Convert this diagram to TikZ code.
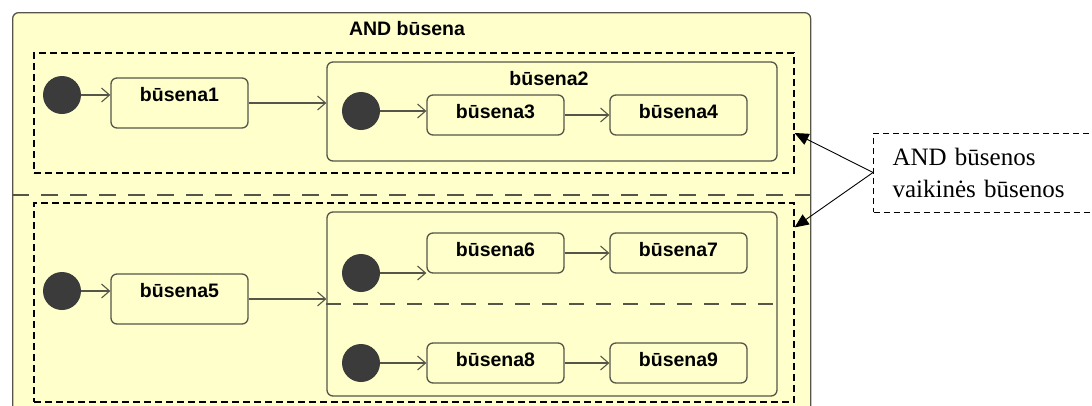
\documentclass[tikz,border=0pt]{standalone}
\usepackage{fontspec}
\setmainfont{Liberation Serif}
\setsansfont{Liberation Sans}
\usepackage{tikz}
\usetikzlibrary{arrows.meta}
\usepackage{xcolor}
\definecolor{stfill}{HTML}{FFFFCC}
\definecolor{stline}{HTML}{55554A}
\definecolor{dot}{HTML}{3B3B3B}

\tikzset{
  box/.style={draw=stline, line width=1.3pt, rounded corners=6pt, fill=stfill, inner sep=0pt},
  state/.style={box, minimum width=137, minimum height=40, text height=12pt, text depth=6pt,
    font=\sffamily\bfseries\fontsize{19.5}{22}\selectfont},
  tall/.style={minimum height=50, text depth=16pt},
  init/.style={circle, fill=dot, minimum size=38, inner sep=0pt},
  tr/.style={draw=stline, line width=1.1pt, -{Straight Barb[length=8pt,width=14pt]}},
  region/.style={draw=black, line width=1.2pt, dash pattern=on 7pt off 4pt, inner sep=0pt},
  sep/.style={draw=stline, line width=1.2pt, dash pattern=on 17pt off 12pt},
  title/.style={font=\sffamily\bfseries\fontsize{19.5}{22}\selectfont, inner sep=0pt}
}

\begin{document}
\begin{tikzpicture}[x=1pt,y=-1pt]
\useasboundingbox (0,0) rectangle (1092,405);
\clip (0,0) rectangle (1092,405);
\fill[white] (0,0) rectangle (1092,405);

% outer AND state and its two regions
\node[box, minimum width=798, minimum height=430, anchor=north west] (and) at (12,12) {};
\node[title] (andtitle) at (407,29) {AND būsena};
\draw[sep] (12,195) -- (810,195);
\node[region, minimum width=760, minimum height=120] (r1) at (414,113) {};
\node[region, minimum width=760, minimum height=199] (r2) at (414,302.5) {};

% first region
\node[init] (i1) at (62,95) {};
\node[state, tall] (s1) at (179.5,103) {būsena1};
\node[box, minimum width=450, minimum height=99] (c2) at (552,111.5) {};
\node[title] (c2title) at (549,79) {būsena2};
\node[init] (i2) at (361,111) {};
\node[state] (s3) at (495.5,115) {būsena3};
\node[state] (s4) at (678.5,115) {būsena4};

\draw[tr] (i1) -- (i1 -| s1.west);
\draw[tr] (s1) -- (s1 -| c2.west);
\draw[tr] (i2) -- (i2 -| s3.west);
\draw[tr] (s3) -- (s4);

% second region
\node[init] (i5) at (62,291) {};
\node[state, tall] (s5) at (179.5,299) {būsena5};
\node[box, minimum width=450, minimum height=184] (c69) at (552,304) {};
\draw[sep, dash pattern=on 15pt off 12pt] (c69.west) -- (c69.east);
\node[init] (i6) at (361,273) {};
\node[state] (s6) at (495.5,253) {būsena6};
\node[state] (s7) at (678.5,253) {būsena7};
\node[init] (i8) at (361,363) {};
\node[state] (s8) at (495.5,363) {būsena8};
\node[state] (s9) at (678.5,363) {būsena9};

\draw[tr] (i5) -- (i5 -| s5.west);
\draw[tr] (s5) -- (s5 -| c69.west);
\draw[tr] (i6) -- (i6 -| s6.west);
\draw[tr] (s6) -- (s7);
\draw[tr] (i8) -- (s8);
\draw[tr] (s8) -- (s9);

% note
\node[draw=black, line width=1pt, dash pattern=on 6pt off 4pt, anchor=west, minimum width=219,
  minimum height=79, text width=195, inner xsep=19pt, align=left,
  font=\fontsize{25}{32}\selectfont] (note) at (873,172.5) {AND būsenos\\vaikinės būsenos};
\draw[line width=0.9pt, -{Triangle[length=14pt,width=12pt]}] (note.west) -- ([yshift=-20pt]r1.east);
\draw[line width=0.9pt, -{Triangle[length=14pt,width=12pt]}] (note.west) -- ([yshift=-25pt]r2.north east);
\end{tikzpicture}
\end{document}
